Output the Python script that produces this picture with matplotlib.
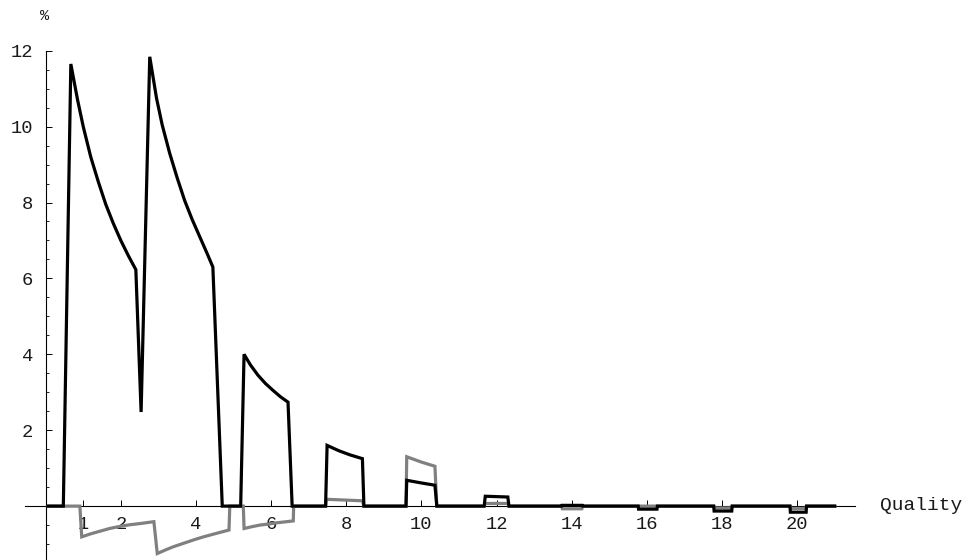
import matplotlib
matplotlib.use("Agg")
import matplotlib.pyplot as plt
from matplotlib.ticker import FixedLocator

# ---- data ----
black_x = [0.07, 0.47,
           0.67, 0.85, 1.00, 1.20, 1.40, 1.60, 1.80, 2.00, 2.20, 2.40, 2.54,
           2.77, 2.95, 3.10, 3.30, 3.50, 3.70, 3.90, 4.10, 4.30, 4.45, 4.70, 5.19,
           5.28, 5.45, 5.65, 5.85, 6.05, 6.25, 6.45, 6.56, 7.45,
           7.49, 7.80, 8.10, 8.43, 8.47, 9.59,
           9.61, 10.00, 10.36, 10.41, 11.67,
           11.70, 12.30, 12.33, 13.73, 13.74, 14.28, 14.29,
           15.77, 15.78, 16.27, 16.28, 17.78, 17.79, 18.26, 18.27,
           19.81, 19.82, 20.24, 20.25, 21.00]
black_y = [0, 0,
           11.65, 10.70, 10.00, 9.20, 8.55, 7.95, 7.45, 7.00, 6.60, 6.23, 2.48,
           11.84, 10.75, 10.05, 9.30, 8.65, 8.05, 7.55, 7.10, 6.65, 6.30, 0, 0,
           4.00, 3.72, 3.45, 3.23, 3.05, 2.88, 2.74, 0, 0,
           1.60, 1.46, 1.35, 1.25, 0, 0,
           0.68, 0.61, 0.55, 0, 0,
           0.26, 0.24, 0, 0, 0.02, 0.02, 0,
           0, -0.08, -0.08, 0, 0, -0.13, -0.13, 0,
           0, -0.16, -0.16, 0, 0]

gray_x = [0.07, 0.91, 0.96, 1.20, 1.45, 1.70, 2.00, 2.25, 2.51, 2.88,
          2.97, 3.20, 3.40, 3.70, 3.97, 4.20, 4.46, 4.88,
          4.90, 5.26, 5.28, 5.50, 5.70, 5.95, 6.15, 6.59, 6.60, 7.45,
          7.47, 8.43, 8.47, 9.59, 9.61, 10.00, 10.36, 10.41, 11.67,
          11.70, 12.30, 12.33, 13.73, 13.75, 14.27, 14.29,
          17.78, 17.80, 18.25, 18.27, 19.81, 19.83, 20.23, 20.25, 21.00]
gray_y = [0, 0, -0.81, -0.73, -0.66, -0.59, -0.53, -0.49, -0.46, -0.41,
          -1.25, -1.15, -1.07, -0.97, -0.88, -0.81, -0.74, -0.63,
          0, 0, -0.59, -0.54, -0.50, -0.47, -0.44, -0.39, 0, 0,
          0.18, 0.14, 0, 0, 1.30, 1.16, 1.05, 0, 0,
          0.07, 0.07, 0, 0, -0.07, -0.07, 0,
          0, -0.05, -0.05, 0, 0, -0.06, -0.06, 0, 0]

x_ticks = [1, 2, 4, 6, 8, 10, 12, 14, 16, 18, 20]
y_ticks = [2, 4, 6, 8, 10, 12]
y_minor = [v / 2 for v in range(-2, 24) if v % 4 != 0]

FONT = "Liberation Mono"
plt.rcParams["font.family"] = [FONT, "DejaVu Sans"]

fig = plt.figure(figsize=(9.69, 5.6), dpi=100)
ax = fig.add_axes([25 / 969, 0.0, 830 / 969, (560 - 50.7) / 560])
ax.set_xlim(-0.55, 21.54)
ax.set_ylim(-1.42, 12.0)

ax.plot(gray_x, gray_y, color="#808080", lw=2.3, solid_joinstyle="miter", zorder=3)
ax.plot(black_x, black_y, color="black", lw=2.3, solid_joinstyle="miter", zorder=4)

for s in ["top", "right"]:
    ax.spines[s].set_visible(False)
ax.spines["left"].set_position(("data", 0))
ax.spines["bottom"].set_position(("data", 0))
for s in ["left", "bottom"]:
    ax.spines[s].set_linewidth(0.8)
    ax.spines[s].set_color("black")
    ax.spines[s].set_zorder(2)

ax.xaxis.set_major_locator(FixedLocator(x_ticks))
ax.yaxis.set_major_locator(FixedLocator(y_ticks))
ax.yaxis.set_minor_locator(FixedLocator(y_minor))
ax.set_xticklabels([str(t) for t in x_ticks])
ax.set_yticklabels([str(t) for t in y_ticks])

ax.tick_params(axis="x", which="major", direction="in", length=4, width=0.7,
               pad=7, labelsize=13.5, labelcolor="#1a1a1a")
ax.tick_params(axis="y", which="major", direction="in", length=4, width=0.7,
               pad=9, labelsize=13.5, labelcolor="#1a1a1a")
ax.tick_params(axis="y", which="minor", direction="in", length=2.2, width=0.6)
for lab in ax.get_xticklabels() + ax.get_yticklabels():
    lab.set_zorder(1)

fig.text(880 / 969, 1 - 506 / 560, "Quality", fontsize=14, family=[FONT],
         ha="left", va="center", color="#1a1a1a")
fig.text(45 / 969, 1 - 15.5 / 560, "%", fontsize=11, family=[FONT],
         ha="center", va="center", color="#1a1a1a")

fig.savefig("out.png", dpi=100)
